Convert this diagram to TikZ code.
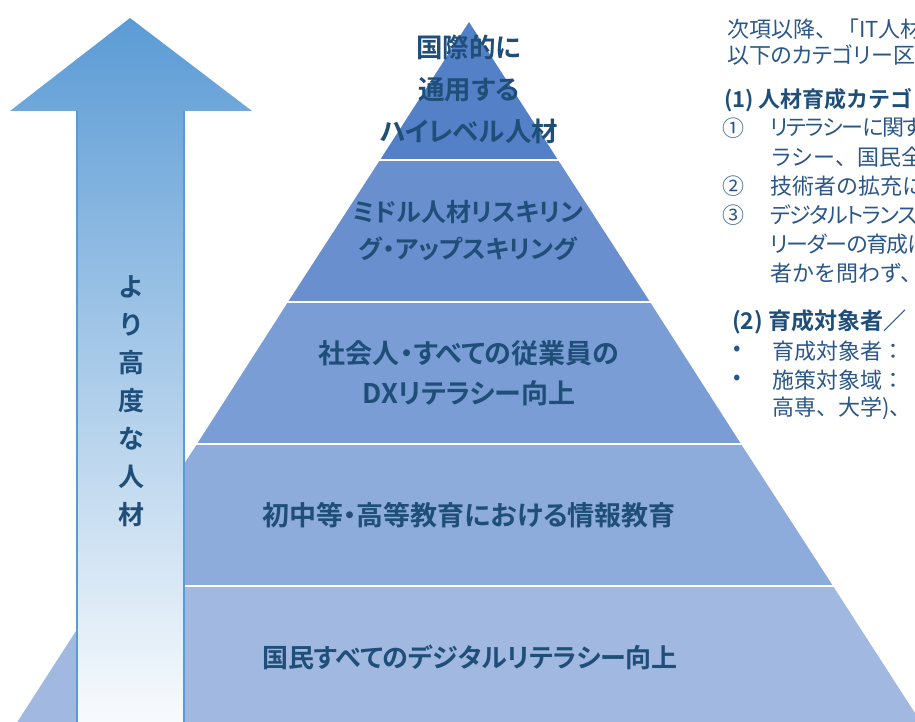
\documentclass[tikz,border=0pt]{standalone}
\usepackage{fontspec}
\setmainfont{Noto Sans CJK JP}[RawFeature=+palt, BoldFont={Noto Sans CJK JP Bold}]
\newfontfamily\jpn{Noto Sans CJK JP}[BoldFont={Noto Sans CJK JP Bold}]
\newfontfamily\jpt{Noto Sans CJK JP}[RawFeature=+palt, LetterSpace=-6]
\usetikzlibrary{calc}
\definecolor{txt}{HTML}{1F4E79}
\definecolor{rtxt}{HTML}{2A5688}
\definecolor{cA}{HTML}{5480C7}
\definecolor{cB}{HTML}{698FCF}
\definecolor{cC}{HTML}{7A9DD5}
\definecolor{cD}{HTML}{8DACDC}
\definecolor{cE}{HTML}{A1B8E1}
\definecolor{arrowblue}{HTML}{5B9BD5}
\begin{document}
\begin{tikzpicture}[x=1pt,y=-1pt,
  lvltext/.style={text=txt,font=\bfseries\fontsize{26.5}{42}\selectfont,align=center,inner sep=0pt},
  rtext/.style={text=rtxt,font=\jpn\fontsize{22}{26}\selectfont,anchor=west,inner sep=0pt},
  rtextp/.style={text=rtxt,font=\fontsize{22}{26}\selectfont,anchor=west,inner sep=0pt},
  rtextt/.style={text=rtxt,font=\jpt\fontsize{22}{26}\selectfont,anchor=west,inner sep=0pt},
  rbold/.style={text=txt,font=\jpn\bfseries\fontsize{22}{26}\selectfont,anchor=west,inner sep=0pt},
  sep/.style={white,line width=2pt}]
\useasboundingbox (0,0) rectangle (915,722);
\clip (0,0) rectangle (915,722);
% pyramid bands
\fill[cA] (469,22) -- (558,160) -- (380,160) -- cycle;
\fill[cB] (380,160) -- (558,160) -- (650,302) -- (288,302) -- cycle;
\fill[cC] (288,302) -- (650,302) -- (741,444) -- (197,444) -- cycle;
\fill[cD] (197,444) -- (741,444) -- (833,586) -- (105,586) -- cycle;
\fill[cE] (105,586) -- (833,586) -- (922,724) -- (16,724) -- cycle;
\draw[sep] (378,160) -- (560,160);
\draw[sep] (286,302) -- (652,302);
\draw[sep] (195,444) -- (743,444);
\draw[sep] (103,586) -- (835,586);
% pyramid texts
\node[lvltext] (t1) at (469,89) {国際的に\\通用する\\ハイレベル人材};
\node[lvltext,font=\bfseries\fontsize{25}{37}\selectfont] (t2) at (468,231) {ミドル人材リスキリン\\グ・アップスキリング};
\node[lvltext,font=\bfseries\fontsize{27}{40}\selectfont] (t3) at (469,373) {社会人・すべての従業員の\\DXリテラシー向上};
\node[lvltext,font=\bfseries\fontsize{27}{42}\selectfont] (t4) at (469,515) {初中等・高等教育における情報教育};
\node[lvltext,font=\bfseries\fontsize{26}{42}\selectfont] (t5) at (470,657) {国民すべてのデジタルリテラシー向上};
% arrow
\shade[top color=arrowblue, middle color=arrowblue!55!white, bottom color=arrowblue!4!white]
  (130,18) -- (252,111) -- (184,111) -- (184,724) -- (77,724) -- (77,111) -- (10,111) -- cycle;
\draw[arrowblue,line width=1.2pt] (184,111) -- (184,724) (77,111) -- (77,724);
\node[text=txt,font=\jpn\bfseries\fontsize{26}{38}\selectfont,align=center,inner sep=0pt] (vt) at (131,401) {よ\\り\\高\\度\\な\\人\\材};
% right text
\node[rtext] (r1) at (727,29) {次項以降、「IT人材};
\node[rtextp] (r2) at (727,55) {以下のカテゴリー区分};
\node[rbold] (r3) at (724,100) {(1) 人材育成カテゴ};
\node[rtext] (n1) at (722,128) {①};
\node[rtextt] (r4) at (770,128) {リテラシーに関す};
\node[rtext] (r5) at (770,157) {ラシー、国民全};
\node[rtext] (n2) at (722,186) {②};
\node[rtext] (r6) at (770,186) {技術者の拡充に};
\node[rtext] (n3) at (722,215) {③};
\node[rtextt] (r7) at (770,215) {デジタルトランス};
\node[rtextt] (r8) at (770,244) {リーダーの育成に};
\node[rtext] (r9) at (770,273) {者かを問わず、};
\node[rbold,font=\jpn\bfseries\fontsize{23}{26}\selectfont] (r10) at (732,322) {(2) 育成対象者／};
\node[rtext] (b1) at (733,351) {•};
\node[rtext] (r11) at (772,351) {育成対象者：};
\node[rtext] (b2) at (733,380) {•};
\node[rtext] (r12) at (772,380) {施策対象域：};
\node[rtext] (r13) at (772,408) {高専、大学)、};
\end{tikzpicture}
\end{document}
